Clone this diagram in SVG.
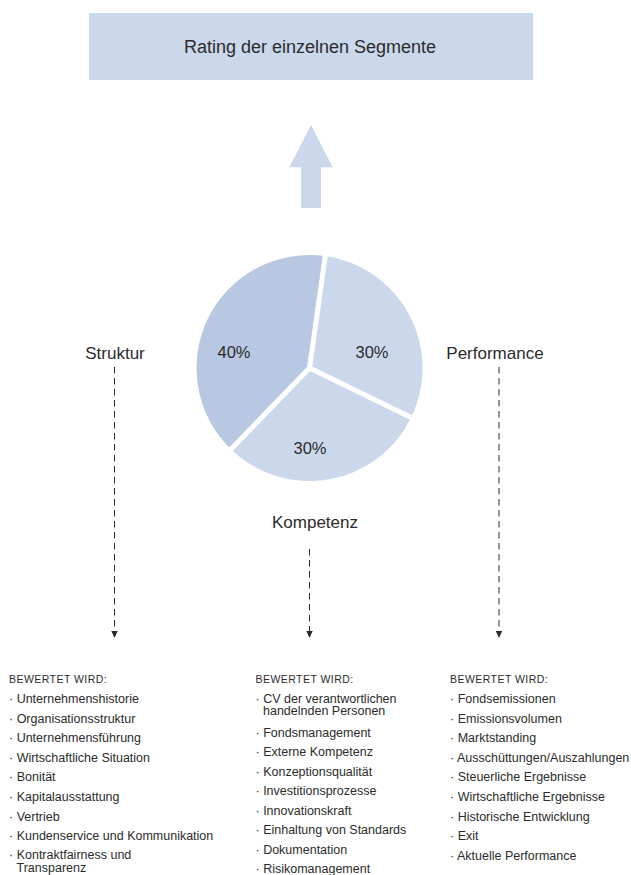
<svg xmlns="http://www.w3.org/2000/svg" width="631" height="875" viewBox="0 0 631 875">
<style>
text { font-family: "Liberation Sans", Arial, sans-serif; fill: #2b2b2b; }
.title { font-size: 18px; }
.lbl { font-size: 17px; }
.pct { font-size: 16.5px; }
.hd { font-size: 10.5px; letter-spacing: 0.45px; }
.it { font-size: 12.5px; }
.light { fill: #cbd8eb; }
.dark { fill: #b8c8e2; }
.sep { stroke: #ffffff; stroke-width: 5; stroke-linecap: butt; }
.dash { stroke: #2b2b2b; stroke-width: 1; stroke-dasharray: 6.5 4.5; fill: none; }
.ah { fill: #2b2b2b; }
</style>
<rect width="631" height="875" fill="#ffffff"/>

<g id="rating">
<rect x="89" y="13" width="444" height="67" class="light"/>
<text class="title" x="310" y="53" text-anchor="middle">Rating der einzelnen Segmente</text>
</g>

<g id="up-arrow">
<path d="M311,125 L332.7,167.3 L321,167.3 L321,208 L301,208 L301,167.3 L289.3,167.3 Z" class="light"/>
</g>

<g id="pie">
<path d="M309.5,368 L325.23,256.1 A113,113 0 0,1 411.06,417.54 Z" class="light"/>
<path d="M309.5,368 L411.06,417.54 A113,113 0 0,1 231,449.28 Z" class="light"/>
<path d="M309.5,368 L231,449.28 A113,113 0 0,1 325.23,256.1 Z" class="dark"/>
<line class="sep" x1="309.5" y1="368" x2="326.2" y2="249.2"/>
<line class="sep" x1="309.5" y1="368" x2="417.4" y2="420.6"/>
<line class="sep" x1="309.5" y1="368" x2="226.1" y2="454.3"/>
<text class="pct" x="234" y="358" text-anchor="middle">40%</text>
<text class="pct" x="372" y="358" text-anchor="middle">30%</text>
<text class="pct" x="310" y="454" text-anchor="middle">30%</text>
</g>

<g id="struktur">
<text class="lbl" x="115" y="359" text-anchor="middle">Struktur</text>
</g>
<g id="performance">
<text class="lbl" x="495" y="359" text-anchor="middle">Performance</text>
</g>
<g id="kompetenz">
<text class="lbl" x="315" y="528" text-anchor="middle">Kompetenz</text>
</g>

<g id="connectors">
<line class="dash" x1="114.5" y1="367" x2="114.5" y2="631"/>
<path class="ah" d="M111.3,631 L117.7,631 L114.5,638 Z"/>
<line class="dash" x1="309.5" y1="549" x2="309.5" y2="631"/>
<path class="ah" d="M306.3,631 L312.7,631 L309.5,638 Z"/>
<line class="dash" x1="499" y1="367" x2="499" y2="631"/>
<path class="ah" d="M495.8,631 L502.2,631 L499,638 Z"/>
</g>

<g id="list-struktur">
<text class="hd" x="9" y="682.5">BEWERTET WIRD:</text>
<text class="it" x="9" y="703">· Unternehmenshistorie</text>
<text class="it" x="9" y="722.6">· Organisationsstruktur</text>
<text class="it" x="9" y="742.2">· Unternehmensführung</text>
<text class="it" x="9" y="761.8">· Wirtschaftliche Situation</text>
<text class="it" x="9" y="781.4">· Bonität</text>
<text class="it" x="9" y="801">· Kapitalausstattung</text>
<text class="it" x="9" y="820.6">· Vertrieb</text>
<text class="it" x="9" y="840.2">· Kundenservice und Kommunikation</text>
<text class="it" x="9" y="859.3">· Kontraktfairness und</text>
<text class="it" x="16.5" y="872">Transparenz</text>
</g>

<g id="list-kompetenz">
<text class="hd" x="255.5" y="682.5">BEWERTET WIRD:</text>
<text class="it" x="255.5" y="702.5">· CV der verantwortlichen</text>
<text class="it" x="263" y="715.2">handelnden Personen</text>
<text class="it" x="255.5" y="736.5">· Fondsmanagement</text>
<text class="it" x="255.5" y="756">· Externe Kompetenz</text>
<text class="it" x="255.5" y="775.6">· Konzeptionsqualität</text>
<text class="it" x="255.5" y="795.2">· Investitionsprozesse</text>
<text class="it" x="255.5" y="814.8">· Innovationskraft</text>
<text class="it" x="255.5" y="834.4">· Einhaltung von Standards</text>
<text class="it" x="255.5" y="854">· Dokumentation</text>
<text class="it" x="255.5" y="872.5">· Risikomanagement</text>
</g>

<g id="list-performance">
<text class="hd" x="450" y="682.5">BEWERTET WIRD:</text>
<text class="it" x="450" y="703">· Fondsemissionen</text>
<text class="it" x="450" y="722.6">· Emissionsvolumen</text>
<text class="it" x="450" y="742.2">· Marktstanding</text>
<text class="it" x="450" y="761.8">· Ausschüttungen/Auszahlungen</text>
<text class="it" x="450" y="781.4">· Steuerliche Ergebnisse</text>
<text class="it" x="450" y="801">· Wirtschaftliche Ergebnisse</text>
<text class="it" x="450" y="820.6">· Historische Entwicklung</text>
<text class="it" x="450" y="840.2">· Exit</text>
<text class="it" x="450" y="859.8">· Aktuelle Performance</text>
</g>
</svg>
